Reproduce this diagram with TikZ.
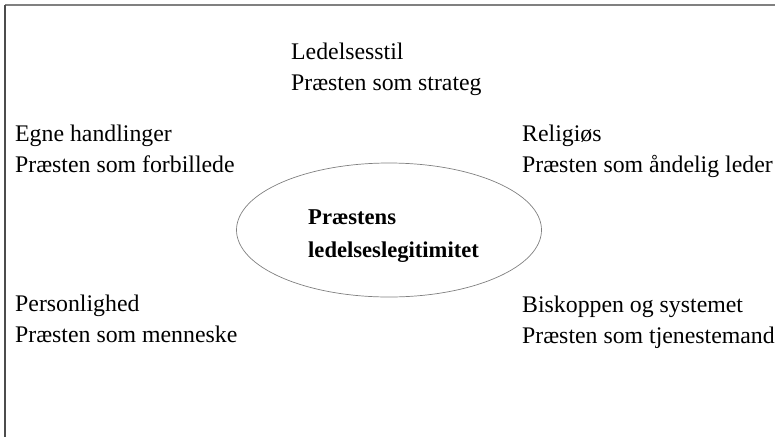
\documentclass[tikz,border=0pt]{standalone}
\usepackage{fontspec}
\setmainfont{Liberation Serif}
\begin{document}
\begin{tikzpicture}[x=1pt,y=-1pt,
  lbl/.style={anchor=base west,align=left,inner sep=0pt,font=\fontsize{23.8}{31}\selectfont},
  ctr/.style={anchor=base west,align=left,inner sep=0pt,font=\fontsize{22.6}{33}\selectfont\bfseries}]
\useasboundingbox (0,0) rectangle (775,437);
\draw[line width=2pt,color=gray] (5,5) -- (775,5);
\draw[line width=1.4pt,color=black!70] (5,5) -- (5,437);
\draw[color=gray,line width=0.7pt] (389,230) ellipse [x radius=152.5, y radius=67];
\node[ctr] (c) at (308,257) {Præstens\\ledelseslegitimitet};
\node[lbl] (top) at (291,90) {Ledelsesstil\\Præsten som strateg};
\node[lbl] (tl) at (15,172) {Egne handlinger\\Præsten som forbillede};
\node[lbl] (tr) at (522,172) {Religiøs\\Præsten som åndelig leder};
\node[lbl] (bl) at (15,342) {Personlighed\\Præsten som menneske};
\node[lbl] (br) at (522,343) {Biskoppen og systemet\\Præsten som tjenestemand};
\end{tikzpicture}
\end{document}
